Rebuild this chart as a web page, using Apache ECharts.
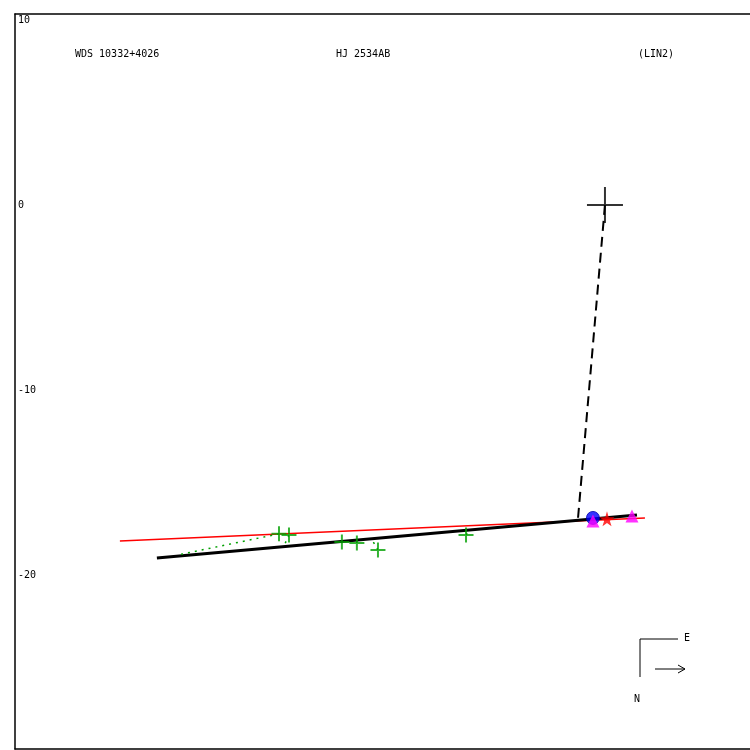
<!DOCTYPE html>
<html><head><meta charset="utf-8">
<script src="https://cdn.jsdelivr.net/npm/echarts@6/dist/echarts.min.js"></script>
<style>html,body{margin:0;padding:0;background:#fff}#c{width:750px;height:750px}</style>
</head><body><div id="c"></div>
<script>
// ---- data (arcsec offsets) ----
const titleLeft = 'WDS 10332+4026';
const titleMid = 'HJ 2534AB';
const titleRight = '(LIN2)';
const yTicks = [-20, -10, 0, 10];
const primary = [[0, 0]];
const periastronLine = [[0, 0], [-1.46, -16.97]];
const orbitLine = [[-24.22, -19.08], [1.73, -16.76]];
const refLine = [[-26.22, -18.16], [2.16, -16.92]];
const greenObs = [[-17.62, -17.78], [-17.08, -17.84], [-14.22, -18.22], [-13.41, -18.27], [-12.27, -18.65], [-7.51, -17.84]];
const greenPred = [[-23.08, -18.92], [-17.35, -18.43], [-14.22, -18.19], [-13.41, -18.11], [-12.59, -18.11], [-7.30, -17.57]];
const blueCircle = [[-0.65, -16.92]];
const magentaTri = [[-0.65, -17.08], [1.46, -16.81]];
const redStar = [[0.11, -16.97]];

const font = 'DejaVu Sans Mono';
const plus = 'path://M7 0V14M0 7H14';

const series = [];
series.push({type:'line', data: refLine, symbol:'none', lineStyle:{color:'#ff0000', width:1.5}, z:2, silent:true});
series.push({type:'line', data: orbitLine, symbol:'none', lineStyle:{color:'#000', width:3}, z:3, silent:true});
series.push({type:'line', data: periastronLine, symbol:'none', lineStyle:{color:'#000', width:2, type:[10,6]}, z:3, silent:true});
greenObs.forEach((p, i) => {
  series.push({type:'line', data:[p, greenPred[i]], symbol:'none', lineStyle:{color:'#00a000', width:1.5, type:[2,5]}, z:4, silent:true});
});
series.push({type:'scatter', data: greenObs, symbol: plus, symbolSize: 15, itemStyle:{color:'none', borderColor:'#00a000', borderWidth:2}, z:5, silent:true});
series.push({type:'scatter', data: primary, symbol: plus, symbolSize: 36, itemStyle:{color:'none', borderColor:'#000', borderWidth:2}, z:5, silent:true});
series.push({type:'scatter', data: blueCircle, symbol:'circle', symbolSize: 13, itemStyle:{color:'#0000ff', borderColor:'#0000aa', borderWidth:1}, z:6, silent:true});
series.push({type:'scatter', data: magentaTri, symbol:'triangle', symbolSize: 13, itemStyle:{color:'#ff00ff'}, z:7, silent:true});
series.push({type:'scatter', data: redStar, symbol:'path://M50 0 L61 35 L98 35 L68 57 L79 91 L50 70 L21 91 L32 57 L2 35 L39 35 Z', symbolSize: 15, itemStyle:{color:'#ff0000'}, z:8, silent:true});

const axLine = {show:true, onZero:false, lineStyle:{color:'#000', width:1.5}};
const xCommon = {type:'value', min:-31.89, max:7.84, axisLine:axLine, axisTick:{show:false}, axisLabel:{show:false}, splitLine:{show:false}};

const chart = echarts.init(document.getElementById('c'), null, {renderer:'canvas'});
chart.setOption({
  animation:false,
  backgroundColor:'#fff',
  grid:{left:15, top:14, right:0, bottom:1, show:false},
  xAxis:[Object.assign({position:'bottom'}, xCommon), Object.assign({position:'top'}, xCommon)],
  yAxis:{type:'value', min:-29.41, max:10.32, position:'left',
    axisLine:axLine, axisTick:{show:false}, splitLine:{show:false},
    axisLabel:{inside:true, margin:3, color:'#000', fontFamily:font, fontSize:10, customValues: yTicks}
  },
  graphic:[
    {type:'text', left:75, top:49, style:{text:titleLeft, font:'10px "DejaVu Sans Mono"', fill:'#000'}},
    {type:'text', left:336, top:49, style:{text:titleMid, font:'10px "DejaVu Sans Mono"', fill:'#000'}},
    {type:'text', left:638, top:49, style:{text:titleRight, font:'10px "DejaVu Sans Mono"', fill:'#000'}},
    {type:'polyline', shape:{points:[[678,639],[640,639],[640,677]]}, style:{stroke:'#000', lineWidth:1, fill:null}},
    {type:'text', left:684, top:633, style:{text:'E', font:'10px "DejaVu Sans Mono"', fill:'#000'}},
    {type:'text', left:634, top:694, style:{text:'N', font:'10px "DejaVu Sans Mono"', fill:'#000'}},
    {type:'polyline', shape:{points:[[655,669],[685,669]]}, style:{stroke:'#000', lineWidth:1, fill:null}},
    {type:'polyline', shape:{points:[[678,665],[685,669],[678,673]]}, style:{stroke:'#000', lineWidth:1, fill:null}}
  ],
  series: series
});
</script></body></html>
